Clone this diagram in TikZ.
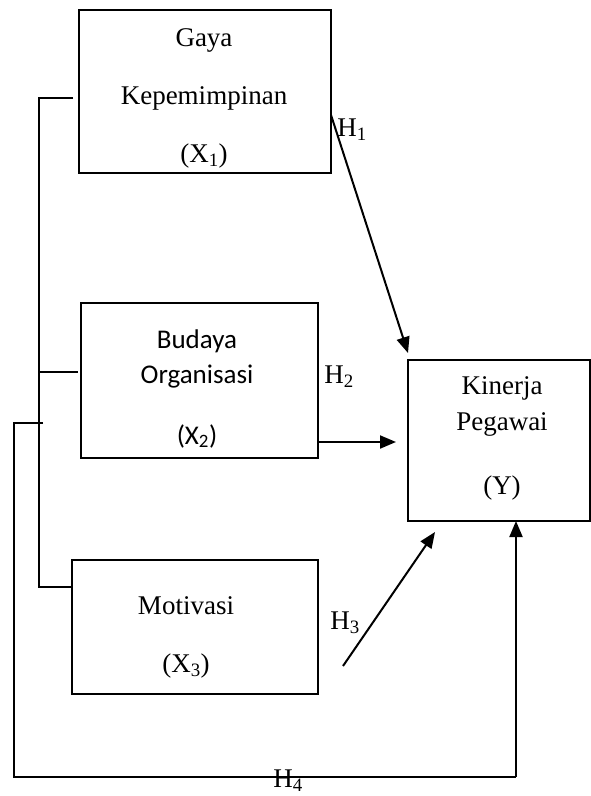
\documentclass[tikz,border=0pt]{standalone}
\usepackage{fontspec}
\setmainfont{Liberation Serif}
\newfontfamily\calibrifont{Carlito}
\usetikzlibrary{arrows.meta}
\tikzset{
  box/.style={draw, line width=2pt, inner sep=0pt},
  lbl/.style={inner sep=0pt, anchor=center, font=\fontsize{27}{30}\selectfont},
  clbl/.style={inner sep=0pt, anchor=center, font=\calibrifont\fontsize{27}{30}\selectfont},
  conn/.style={line width=2pt},
  arr/.style={line width=2pt, -{Triangle[length=16pt,width=13pt]}}
}
\begin{document}
\begin{tikzpicture}[x=1pt,y=-1pt]
\useasboundingbox (0,0) rectangle (591,796);
% boxes
\node[box, minimum width=252pt, minimum height=163pt] (b1) at (205,91.5) {};
\node[box, minimum width=237pt, minimum height=155pt] (b2) at (199.5,380.5) {};
\node[box, minimum width=246pt, minimum height=134pt] (b3) at (195,627) {};
\node[box, minimum width=182pt, minimum height=161pt] (by) at (499,440.5) {};
% texts
\node[lbl] (t1a) at (204,40) {Gaya};
\node[lbl] (t1b) at (204,98) {Kepemimpinan};
\node[lbl] (t1c) at (204,156) {(X\textsubscript{1})};
\node[clbl] (t2a) at (197,341) {Budaya};
\node[clbl] (t2b) at (197,377) {Organisasi};
\node[clbl] (t2c) at (197,436) {(X\textsubscript{2})};
\node[lbl] (t3a) at (186,606) {Motivasi};
\node[lbl] (t3b) at (186,666) {(X\textsubscript{3})};
\node[lbl] (tya) at (502,388) {Kinerja};
\node[lbl] (tyb) at (502,424) {Pegawai};
\node[lbl] (tyc) at (502,488) {(Y)};
% hypothesis labels
\node[lbl] (h1) at (352,130) {H\textsubscript{1}};
\node[lbl] (h2) at (339,377) {H\textsubscript{2}};
\node[lbl] (h3) at (345,623) {H\textsubscript{3}};
\node[lbl] (h4) at (288,781) {H\textsubscript{4}};
% left bracket
\coordinate (l1) at (73,98);
\coordinate (l1c) at (39,98);
\coordinate (l2) at (78,372);
\coordinate (l2c) at (39,372);
\coordinate (l3c) at (39,587);
\coordinate (l3) at (72,587);
\draw[conn] (l1) -- (l1c) -- (l3c) -- (l3);
\draw[conn] (l2c) -- (l2);
% outer loop H4
\coordinate (o1) at (43,423);
\coordinate (o1c) at (14,423);
\coordinate (o2c) at (14,777);
\coordinate (o3c) at (516,777);
\coordinate (o4) at (516,521);
\draw[conn] (o1) -- (o1c) -- (o2c) -- (o3c);
\draw[arr] (o3c) -- (o4);
% H1
\coordinate (a1s) at (331,115);
\coordinate (a1e) at (408,353);
\draw[arr] (a1s) -- (a1e);
% H2
\coordinate (a2s) at (318,442);
\coordinate (a2e) at (396,442);
\draw[arr] (a2s) -- (a2e);
% H3
\coordinate (a3s) at (343,666);
\coordinate (a3e) at (435,532);
\draw[arr] (a3s) -- (a3e);
\end{tikzpicture}
\end{document}
